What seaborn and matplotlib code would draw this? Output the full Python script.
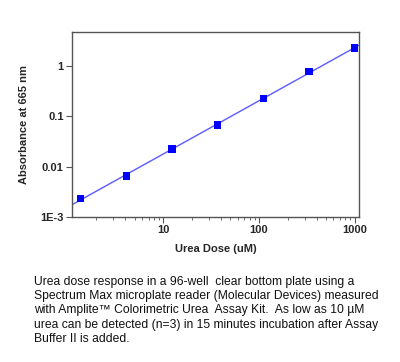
import matplotlib

matplotlib.use("Agg")
import matplotlib.pyplot as plt
import matplotlib.ticker as mticker
import numpy as np
import seaborn as sns

# data
urea_dose = [1.37, 4.12, 12.3, 37.0, 111.0, 333.0, 1000.0]
absorbance = [0.00236, 0.0065, 0.0225, 0.0666, 0.225, 0.774, 2.26]
y_ticks = [0.001, 0.01, 0.1, 1]
y_tick_labels = ["1E-3", "0.01", "0.1", "1"]
x_ticks = [10, 100, 1000]
x_tick_labels = ["10", "100", "1000"]

CAPTION = (
    "Urea dose response in a 96-well  clear bottom plate using a\n"
    "Spectrum Max microplate reader (Molecular Devices) measured\n"
    "with Amplite\u2122 Colorimetric Urea  Assay Kit.  As low as 10 \u00b5M\n"
    "urea can be detected (n=3) in 15 minutes incubation after Assay\n"
    "Buffer II is added."
)


def main():
    sns.set_theme(style="ticks")
    plt.rcParams["font.family"] = ["Liberation Sans", "DejaVu Sans"]

    fig = plt.figure(figsize=(4.0, 3.62), dpi=100, facecolor="white")
    ax = fig.add_axes([72 / 400, 1 - 217 / 362, (359 - 72) / 400, (217 - 32) / 362])

    xlim = (1.11, 1110)
    # log-log linear fit through the points, drawn across the whole axis
    k, b = np.polyfit(np.log10(urea_dose), np.log10(absorbance), 1)
    fx = np.array(xlim)
    fy = 10 ** (k * np.log10(fx) + b)
    sns.lineplot(x=fx, y=fy, ax=ax, color="#5a5aff", lw=1.0, zorder=2)
    sns.scatterplot(x=urea_dose, y=absorbance, ax=ax, marker="s", s=28,
                    color="#0000ff", edgecolor="none", linewidth=0, zorder=3)

    ax.set_xscale("log")
    ax.set_yscale("log")
    ax.set_xlim(*xlim)
    ax.set_ylim(0.001, 4.7)

    ax.yaxis.set_major_locator(mticker.FixedLocator(y_ticks))
    ax.yaxis.set_major_formatter(mticker.FixedFormatter(y_tick_labels))
    ax.yaxis.set_minor_locator(mticker.NullLocator())
    ax.xaxis.set_major_locator(mticker.FixedLocator(x_ticks))
    ax.xaxis.set_major_formatter(mticker.FixedFormatter(x_tick_labels))
    ax.xaxis.set_minor_locator(mticker.LogLocator(base=10, subs=np.arange(2, 10)))
    ax.xaxis.set_minor_formatter(mticker.NullFormatter())

    for s in ax.spines.values():
        s.set_color("#555555")
        s.set_linewidth(1.0)
    ax.tick_params(axis="both", which="major", direction="out", length=4, width=0.8,
                   color="#555555", labelsize=8, pad=2)
    ax.tick_params(axis="x", which="minor", direction="out", length=2, width=0.6,
                   color="#555555")
    for lab in ax.get_xticklabels() + ax.get_yticklabels():
        lab.set_fontweight("bold")

    ax.set_xlabel("Urea Dose (uM)", fontsize=8, fontweight="bold", labelpad=6)
    ax.set_ylabel("Absorbance at 665 nm", fontsize=8, fontweight="bold", labelpad=8)

    fig.text(34 / 400, 1 - 276 / 362, CAPTION, fontsize=8.75, va="top", ha="left",
             linespacing=1.25, color="#111111")

    fig.savefig("out.png", dpi=100, facecolor="white")
    plt.close(fig)


if __name__ == "__main__":
    main()
